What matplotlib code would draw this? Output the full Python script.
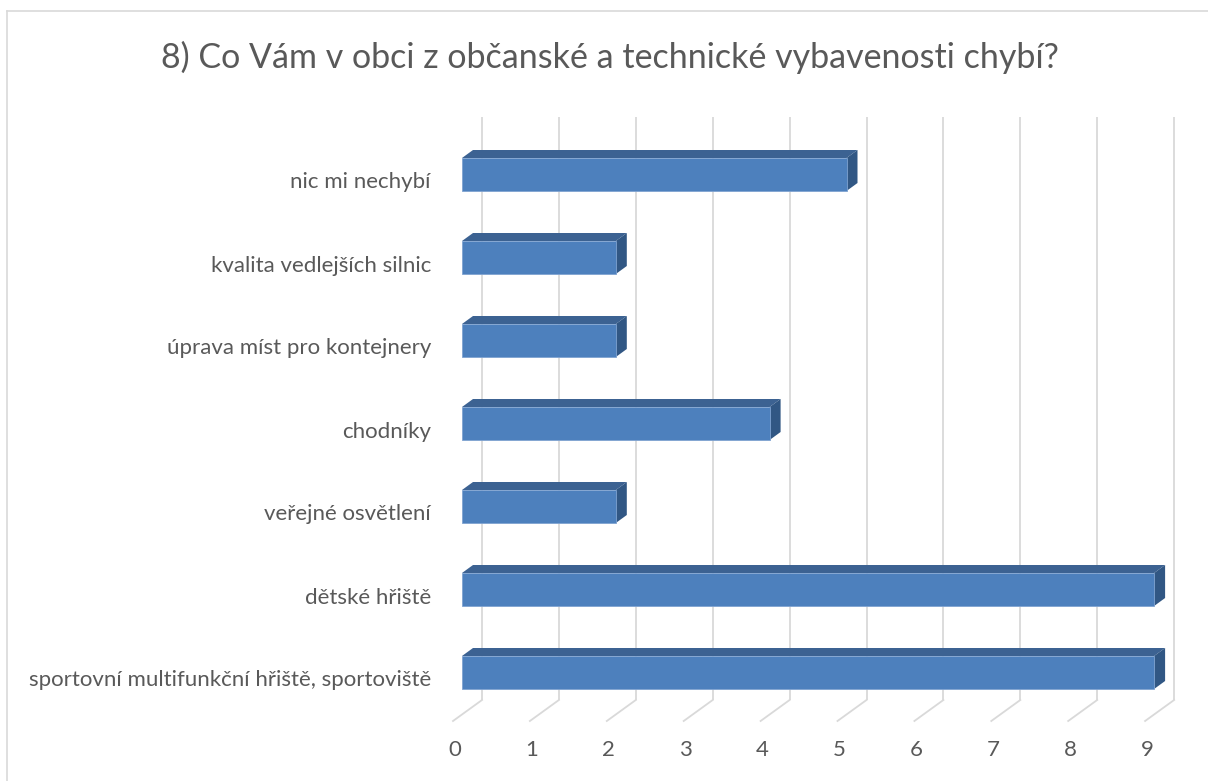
import matplotlib.pyplot as plt
from matplotlib.patches import Polygon
from matplotlib.lines import Line2D

categories = ['nic mi nechybí', 'kvalita vedlejších silnic',
              'úprava míst pro kontejnery', 'chodníky', 'veřejné osvětlení',
              'dětské hřiště', 'sportovní multifunkční hřiště, sportoviště']
values = [5, 2, 2, 4, 2, 9, 9]
ticks = list(range(10))
title = '8) Co Vám v obci z občanské a technické vybavenosti chybí?'

plt.rcParams['font.family'] = ['Lato', 'DejaVu Sans']
text_color = '#595959'
grid_color = '#d9d9d9'
front_c = '#4d80bd'
top_c = '#3c6292'
side_c = '#315784'

W, H = 1208, 781
fig = plt.figure(figsize=(W / 100, H / 100), dpi=100)

# pixel geometry of the 3D plot (front face: 0 at 462 px, 76.9 px per unit)
px_unit, px_cat = 76.9, 83.0
x0_px, y0_px = 462, 174.5
left, right, top, bottom = 440, 1190, 100, 730
ax = fig.add_axes([left / W, (H - bottom) / H, (right - left) / W,
                   (bottom - top) / H])
ax.set_xlim((left - x0_px) / px_unit, (right - x0_px) / px_unit)
ax.set_ylim((bottom - y0_px) / px_cat, (top - y0_px) / px_cat)
ax.axis('off')

h = 16.5 / px_cat           # half bar height
dx, dy = 11 / px_unit, 8 / px_cat   # bar depth
wx = 20 / px_unit           # back wall offset
wall_top, wall_bot = (117 - y0_px) / px_cat, (700 - y0_px) / px_cat
fx, floor_y = -9 / px_unit, (721 - y0_px) / px_cat

# back wall gridlines and floor lines
for t in ticks:
    ax.plot([t + wx, t + wx], [wall_top, wall_bot], color=grid_color,
            lw=1.3, zorder=1, solid_capstyle='butt')
    ax.plot([t + wx, t + fx], [wall_bot, floor_y], color=grid_color,
            lw=1.3, zorder=1)
    ax.text(t - 7 / px_unit, (750 - y0_px) / px_cat, str(t),
            ha='center', va='center', fontsize=16, color=text_color,
            clip_on=False)

# 3D bars
for i, (cat, v) in enumerate(zip(categories, values)):
    yt, yb = i - h, i + h
    ax.add_patch(Polygon([(0, yt), (dx, yt - dy), (v + dx, yt - dy), (v, yt)],
                         closed=True, fc=top_c, ec='none', zorder=3))
    ax.add_patch(Polygon([(v, yt), (v + dx, yt - dy), (v + dx, yb - dy),
                          (v, yb)], closed=True, fc=side_c, ec='none',
                         zorder=3))
    ax.add_patch(Polygon([(0, yt), (v, yt), (v, yb), (0, yb)], closed=True,
                         fc=front_c, ec='#7fa3d1', lw=0.6, zorder=4))
    ax.text(-31 / px_unit, i + 8 / px_cat, cat, ha='right', va='center',
            fontsize=16, color=text_color, clip_on=False)

fig.text(0.505, 1 - 57 / H, title, ha='center', va='center', fontsize=24.5,
         color=text_color)

# chart border (top and left visible)
fig.add_artist(Line2D([7 / W, 7 / W], [0, 1 - 11 / H], color=grid_color,
                      lw=1.2, transform=fig.transFigure))
fig.add_artist(Line2D([7 / W, 1], [1 - 11 / H, 1 - 11 / H], color=grid_color,
                      lw=1.2, transform=fig.transFigure))

fig.savefig('out.png', dpi=100)
